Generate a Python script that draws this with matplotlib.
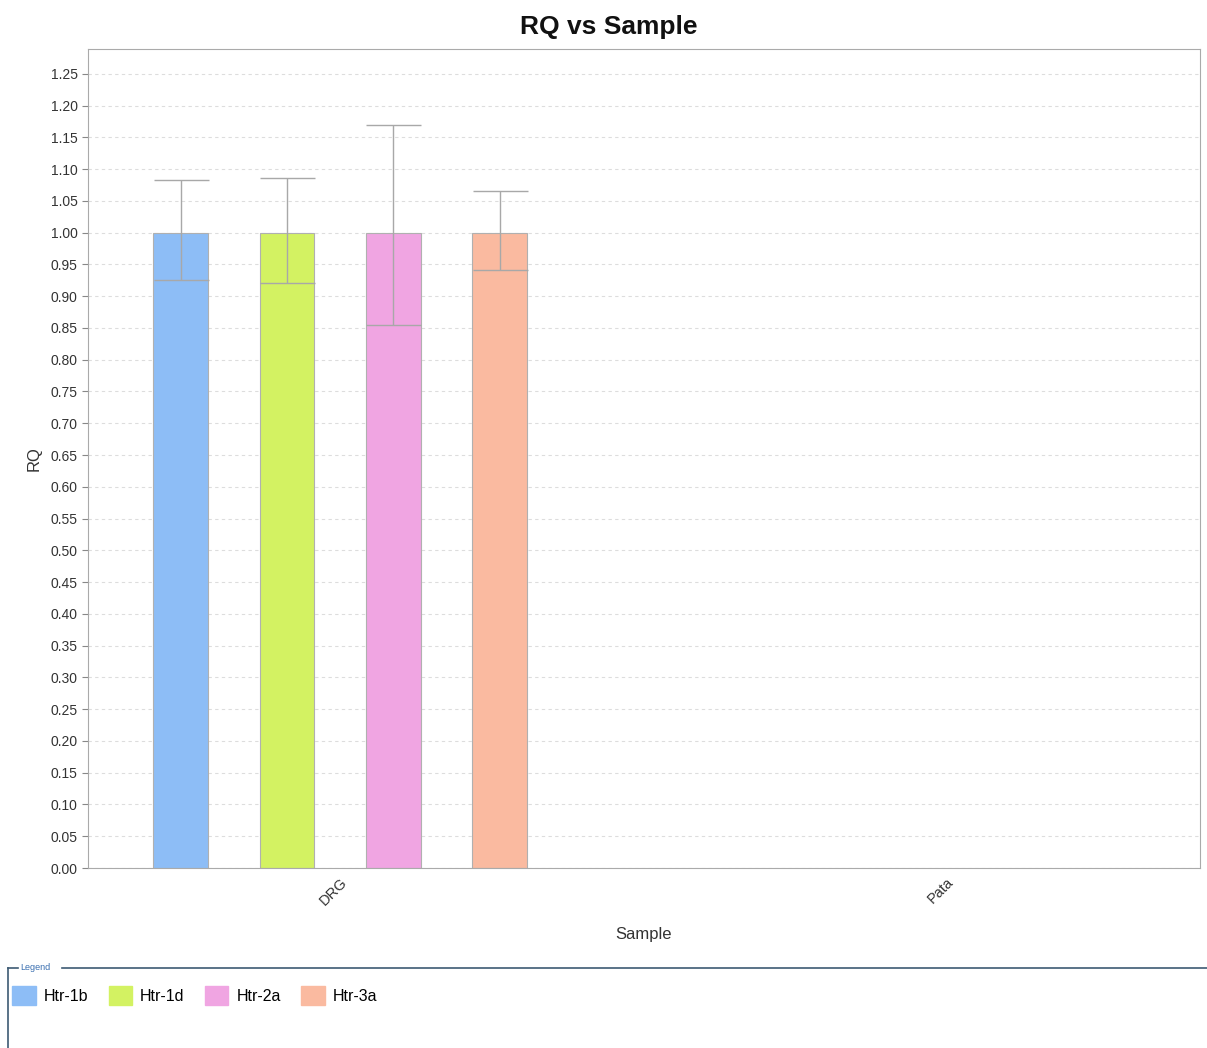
import matplotlib.pyplot as plt
from matplotlib.patches import Patch
from matplotlib.lines import Line2D
import numpy as np

plt.rcParams['font.family'] = ['Liberation Sans', 'DejaVu Sans']

samples = ['DRG', 'Pata']
targets = ['Htr-1b', 'Htr-1d', 'Htr-2a', 'Htr-3a']
colors = ['#8DBDF6', '#D3F262', '#F0A5E2', '#FABAA0']

# RQ per target for each sample (Pata has no values)
rq = {
    'Htr-1b': [1.0, np.nan],
    'Htr-1d': [1.0, np.nan],
    'Htr-2a': [1.0, np.nan],
    'Htr-3a': [1.0, np.nan],
}
rq_min = {
    'Htr-1b': [0.926, np.nan],
    'Htr-1d': [0.921, np.nan],
    'Htr-2a': [0.855, np.nan],
    'Htr-3a': [0.941, np.nan],
}
rq_max = {
    'Htr-1b': [1.083, np.nan],
    'Htr-1d': [1.086, np.nan],
    'Htr-2a': [1.170, np.nan],
    'Htr-3a': [1.066, np.nan],
}

fig = plt.figure(figsize=(12.07, 10.48), dpi=100)
ax = fig.add_axes([88/1207, 1-868/1048, (1200-88)/1207, (868-49)/1048])

x = np.arange(len(samples))
step = 0.1755
width = 0.09
for i, t in enumerate(targets):
    pos = x + (i - 1.5) * step
    vals = np.array(rq[t])
    lo = vals - np.array(rq_min[t])
    hi = np.array(rq_max[t]) - vals
    ax.bar(pos, vals, width, color=colors[i], edgecolor='#b0b0b0', linewidth=0.8, zorder=2)
    ax.errorbar(pos, vals, yerr=[lo, hi], fmt='none', ecolor='#a8a8a8',
                elinewidth=1.0, capsize=19.8, capthick=1.0, zorder=3)

ax.set_xlim(-0.416, 1.419)
ax.set_ylim(0, 1.289)
ax.set_yticks(np.arange(0, 1.2501, 0.05))
ax.set_yticklabels(['%.2f' % v for v in np.arange(0, 1.2501, 0.05)], fontsize=10)
ax.set_xticks(x)
ax.set_xticklabels(samples, rotation=45, ha='right', rotation_mode='anchor', fontsize=10.5)
ax.tick_params(axis='both', colors='#888888', labelcolor='#333333', length=4)
ax.tick_params(axis='x', length=0, pad=5)
ax.yaxis.grid(True, linestyle=(0, (3, 3)), color='#dddddd', linewidth=0.8, zorder=0)
ax.set_axisbelow(True)
for s in ax.spines.values():
    s.set_color('#aaaaaa')

ax.set_xlabel('Sample', fontsize=12, color='#333333', labelpad=14)
ax.set_ylabel('RQ', fontsize=12, color='#333333', labelpad=6)
fig.text(0.504, 1-27/1048, 'RQ vs Sample', ha='center', va='center',
         fontsize=19, fontweight='bold', color='#111111')

# legend frame
frame_c = '#3d5a73'
y0 = 1-968/1048
fig.add_artist(Line2D([8/1207, 8/1207], [0, y0], color=frame_c, lw=1.2))
fig.add_artist(Line2D([8/1207, 18/1207], [y0, y0], color=frame_c, lw=1.2))
fig.add_artist(Line2D([62/1207, 1.0], [y0, y0], color=frame_c, lw=1.2))
fig.text(20/1207, y0, 'Legend', fontsize=6.5, color='#3a6fb0', va='center')

handles = [Patch(facecolor=c, edgecolor=c) for c in colors]
fig.legend(handles, targets, loc='upper left', bbox_to_anchor=(6/1207, 1-980/1048),
           ncol=4, frameon=False, fontsize=11.5, handlelength=1.45, handleheight=1.45,
           handletextpad=0.5, columnspacing=1.3, borderaxespad=0)

fig.savefig('out.png', dpi=100)
